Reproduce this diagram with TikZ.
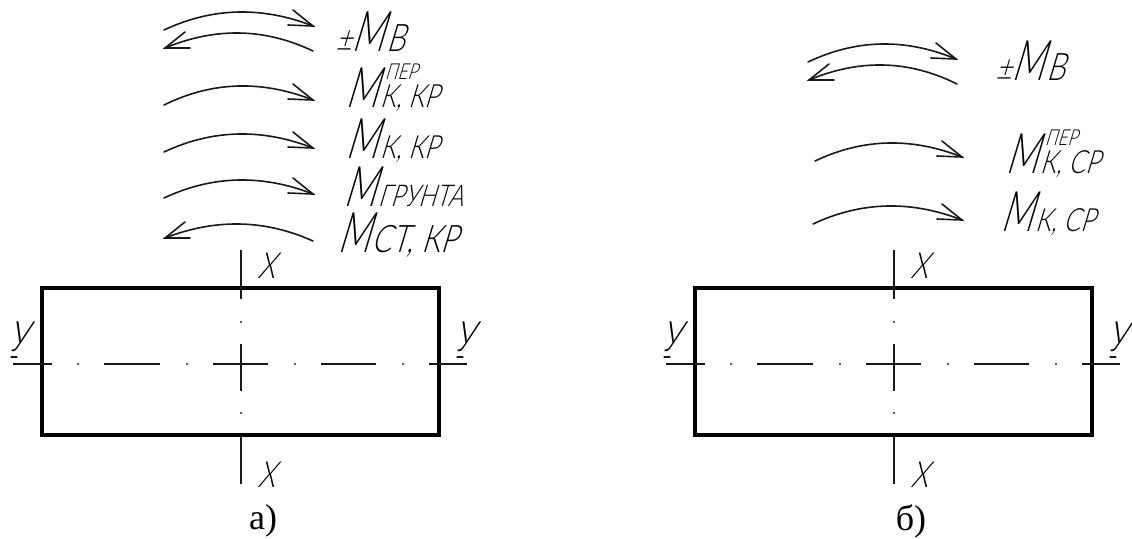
\documentclass[tikz,border=0pt]{standalone}
\usepackage{fontspec}
\setmainfont{Liberation Serif}
\newfontfamily\dr[UprightFont={* Light},FakeSlant=0.3,FakeStretch=0.78]{Lato}
\newfontfamily\drm[UprightFont={* Light},FakeSlant=0.3,FakeStretch=0.64]{Lato}
\newcommand\bigM[2][16]{{\drm\fontsize{28}{28}\selectfont M}\kern1pt{\fontsize{#1}{#1}\selectfont #2}}
\newcommand\bigMup[2]{{\drm\fontsize{28}{28}\selectfont M}\kern1pt\rlap{\kern2.5pt\raisebox{14pt}{\fontsize{11}{11}\selectfont #2}}{\fontsize{16}{16}\selectfont #1}}
\tikzset{
  x=0.5pt,y=-0.5pt,
  moment/.style={line width=0.8pt,black!90,line cap=round,line join=miter},
  body/.style={line width=1.9pt,black,line join=miter},
  axis/.style={line width=0.65pt,black!90},
  tail/.style={line width=0.6pt,black!90,line cap=round},
  lab/.style={anchor=base west,inner sep=0pt,font=\dr,text=black},
  axlab/.style={anchor=center,inner sep=0pt,font=\dr\fontsize{18}{18}\selectfont,text=black},
  ylab/.style={anchor=center,inner sep=0pt,font=\dr\fontsize{21}{21}\selectfont,text=black},
  subcap/.style={anchor=center,inner sep=0pt,font=\fontsize{18}{18}\selectfont,text=black}
}
\newcommand\curveM[5]{%
  \pgfmathsetmacro\cya{(#2+#4)/2+4/3*(#5-(#2+#4)/2)}%
  \pgfmathsetmacro\cxa{#1+(#3-#1)/3}%
  \pgfmathsetmacro\cxb{#1+2*(#3-#1)/3}%
  \draw[moment] (#1,#2) .. controls (\cxa,\cya) and (\cxb,\cya) .. (#3,#4);}
\newcommand\RArr[5]{\curveM{#1}{#2}{#3}{#4}{#5}%
  \draw[moment] (#3,#4) ++(-20,-16) -- ++(20,16) -- ++(-25,-1);}
\newcommand\LArr[5]{\curveM{#1}{#2}{#3}{#4}{#5}%
  \draw[moment] (#3,#4) ++(20,-16) -- ++(-20,16) -- ++(25,0);}
\newcommand\beam[2]{%
 \begin{scope}[xshift=#1*0.5pt]
  \node[body,draw,minimum width=198.5pt,minimum height=73.5pt,inner sep=0pt,outer sep=0pt,anchor=north west] (#2r) at (42,288) {};
  \coordinate (#2t) at (241,250);\coordinate (#2ta) at (241,299);
  \coordinate (#2b) at (241,437);\coordinate (#2ba) at (241,484);
  \coordinate (#2c) at (241,344);\coordinate (#2ca) at (241,391);
  \draw[axis] (#2t) -- (#2ta);
  \draw[axis] (#2c) -- (#2ca);
  \draw[axis] (#2b) -- (#2ba);
  \draw[axis] (13,364) -- (52,364) (104,364) -- (160,364) (213,364) -- (268,364) (321,364) -- (376,364) (429,364) -- (467,364);
  \foreach \p in {78,187,295,403} \fill[black!85] (\p,364) circle (0.6pt);
  \foreach \p in {322,413} \fill[black!85] (241,\p) circle (0.6pt);
  \node[axlab] (#2xt) at (266,266) {X};
  \node[axlab] (#2xb) at (266,475) {X};
  \node[ylab] (#2yl) at (17,337) {У};
  \node[ylab] (#2yr) at (463,337) {У};
  \draw[tail] (11,357) -- (17,357);
  \draw[tail] (457,357) -- (463,357);
 \end{scope}}
\begin{document}
\begin{tikzpicture}
\useasboundingbox[fill=white] (0,0) rectangle (1132,538);
\beam{0}{a}
\beam{653}{b}
\RArr{164}{30}{313}{26}{12}
\LArr{313}{51}{165}{48}{33}
\RArr{164}{105}{313}{100}{86}
\RArr{164}{152}{313}{148}{134}
\RArr{164}{198}{313}{194}{180}
\LArr{313}{241}{165}{238}{224}
\RArr{808}{62}{956}{59}{44}
\LArr{957}{84}{809}{80}{65}
\RArr{815}{161}{962}{157}{143}
\RArr{813}{224}{962}{220}{206}
\node[lab] (l1) at (335,51) {{\fontsize{18}{18}\selectfont ±}\bigM[19]{В}};
\node[lab] (l2) at (345,107) {\bigMup{К, КР}{ПЕР}};
\node[lab] (l3) at (345,158) {\bigM{К, КР}};
\node[lab] (l4) at (343,206) {\bigM[15]{ГРУНТА}};
\node[lab] (l5) at (337,252) {\bigM[19]{СТ, КР}};
\node[lab] (r1) at (995,80) {{\fontsize{18}{18}\selectfont ±}\bigM[19]{В}};
\node[lab] (r2) at (1005,173) {\bigMup{К, СР}{ПЕР}};
\node[lab] (r3) at (1000,231) {\bigM{К, СР}};
\node[subcap] (capa) at (263,521) {а)};
\node[subcap] (capb) at (911,521) {б)};
\end{tikzpicture}
\end{document}
